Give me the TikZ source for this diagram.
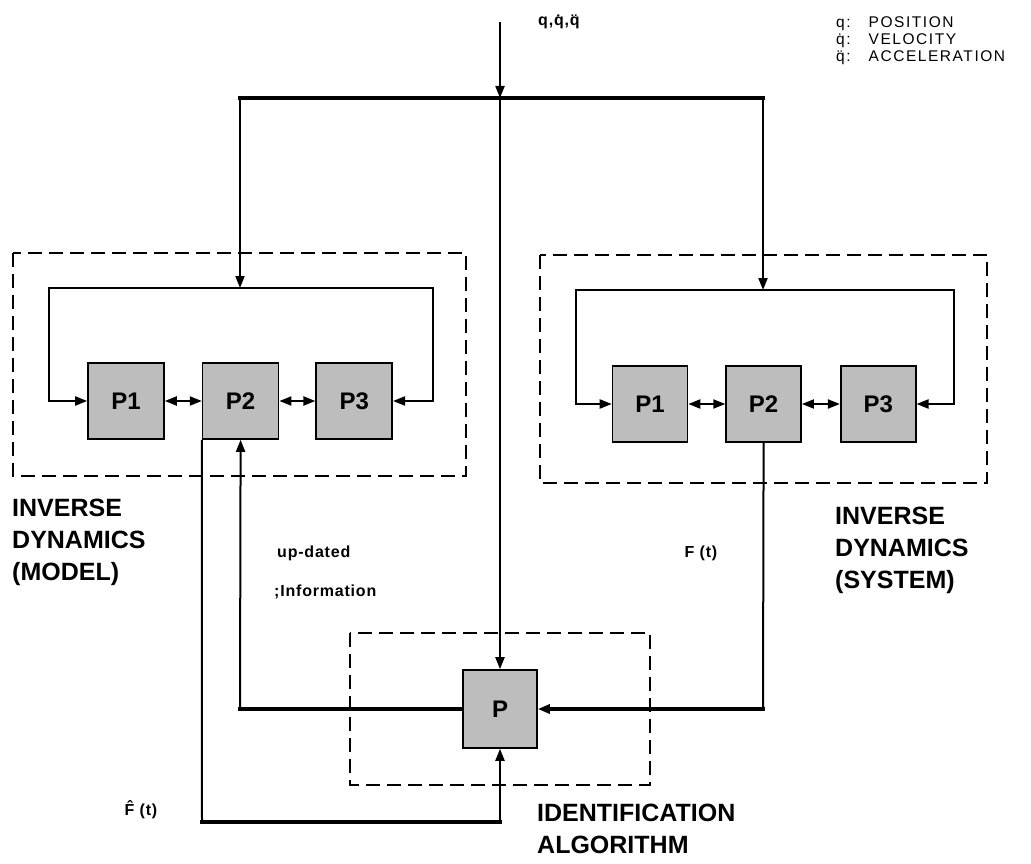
\documentclass[tikz,border=0pt]{standalone}
\usepackage{fontspec}
\setmainfont{Liberation Sans}
\newfontfamily\spacedfont[LetterSpace=10]{Liberation Sans}
\newfontfamily\notefont[LetterSpace=5]{Liberation Sans}
\usetikzlibrary{arrows.meta,positioning,calc}

\tikzset{
  pbox/.style={draw, line width=1.6pt, fill=black!26, minimum width=76pt, minimum height=76pt, inner sep=0pt, font=\fontsize{24}{24}\selectfont\bfseries},
  modbox/.style={draw, line width=1.6pt, dash pattern=on 14pt off 7pt},
  sig/.style={line width=2pt},
  bus/.style={line width=4pt, line cap=rect},
  tip/.style={-{Triangle[length=12pt,width=9pt]}},
  biarrow/.style={{Triangle[length=12pt,width=9pt]}-{Triangle[length=12pt,width=9pt]}},
  title/.style={align=left, anchor=north west, inner sep=0pt, font=\fontsize{25}{32}\selectfont\bfseries},
  note/.style={inner sep=0pt, font=\notefont\bfseries\fontsize{16}{20}\selectfont},
}

\begin{document}
\begin{tikzpicture}[x=1pt, y=-1pt]
\fill[white] (0,0) rectangle (1031,864);
\useasboundingbox (0,0) rectangle (1031,864);

% input and main bus
\coordinate (in) at (500,22);
\coordinate (bus) at (500,98);
\coordinate (busL) at (240,98);
\coordinate (busR) at (763,98);
\node[note, anchor=west] (inlbl) at (538,22) {q,\.{q},\"{q}};
\node[anchor=north west, inner sep=0pt, font=\spacedfont\fontsize{15.5}{17}\selectfont] (legend) at (836,15)
  {\begin{tabular}{@{}l@{\hspace{18pt}}l@{}}q: & POSITION\\ \.{q}: & VELOCITY\\ \"{q}: & ACCELERATION\end{tabular}};
\draw[sig, tip] (in) -- (bus);
\draw[bus] (busL) -- (busR);

% inverse dynamics (model)
\draw[modbox] (13,253) rectangle (466,476);
\node[pbox] (P1L) at (126,401) {P1};
\node[pbox, right=37pt of P1L] (P2L) {P2};
\node[pbox, right=36pt of P2L] (P3L) {P3};
\coordinate (jL) at (240,288);
\draw[sig, tip] (busL) -- (jL);
\draw[sig, tip] (jL) -| ([xshift=-38pt]P1L.west) -- (P1L.west);
\draw[sig, tip] (jL) -| ([xshift=40pt]P3L.east) -- (P3L.east);
\draw[sig, biarrow] (P1L) -- (P2L);
\draw[sig, biarrow] (P2L) -- (P3L);
\node[title] (lblL) at (12,499) {INVERSE\\DYNAMICS\\(MODEL)};

% inverse dynamics (system)
\draw[modbox] (540,255) rectangle (987,483);
\node[pbox, minimum width=75pt] (P1R) at (650,404) {P1};
\node[pbox, minimum width=75pt, right=37pt of P1R] (P2R) {P2};
\node[pbox, minimum width=75pt, right=38pt of P2R] (P3R) {P3};
\coordinate (jR) at (763,290);
\draw[sig, tip] (busR) -- (jR);
\draw[sig, tip] (jR) -| ([xshift=-36pt]P1R.west) -- (P1R.west);
\draw[sig, tip] (jR) -| ([xshift=37pt]P3R.east) -- (P3R.east);
\draw[sig, biarrow] (P1R) -- (P2R);
\draw[sig, biarrow] (P2R) -- (P3R);
\node[title] (lblR) at (835,507) {INVERSE\\DYNAMICS\\(SYSTEM)};

% identification algorithm
\draw[modbox] (350,633) rectangle (650,785);
\node[pbox, minimum width=74pt, minimum height=78pt] (P) at (500,709) {P};
\draw[sig, tip] (bus) -- (P.north);
\node[title] (lblP) at (537,804) {IDENTIFICATION\\ALGORITHM};

% F(t) from the system
\coordinate (fR) at (763,709);
\draw[sig] (P2R.south) -- (fR);
\draw[bus, tip] (fR) -- (P.east);
\node[note] (flbl) at (701,553) {F (t)};

% up-dated information to the model
\coordinate (updL) at (240,709);
\draw[bus] (P.west) -- (updL);
\draw[sig, tip] (updL) -- (P2L.south);
\node[note, anchor=west] (upd1) at (277,553) {up-dated};
\node[note, anchor=west] (upd2) at (274,592) {;Information};

% estimated force from the model
\coordinate (fhatL) at (202,822);
\coordinate (fhatR) at (500,822);
\draw[sig] (P2L.south west) -- (fhatL);
\draw[bus] (fhatL) -- (fhatR);
\draw[sig, tip] (fhatR) -- (P.south);
\node[note] (fhatlbl) at (141,810) {\^{F} (t)};
\end{tikzpicture}
\end{document}
